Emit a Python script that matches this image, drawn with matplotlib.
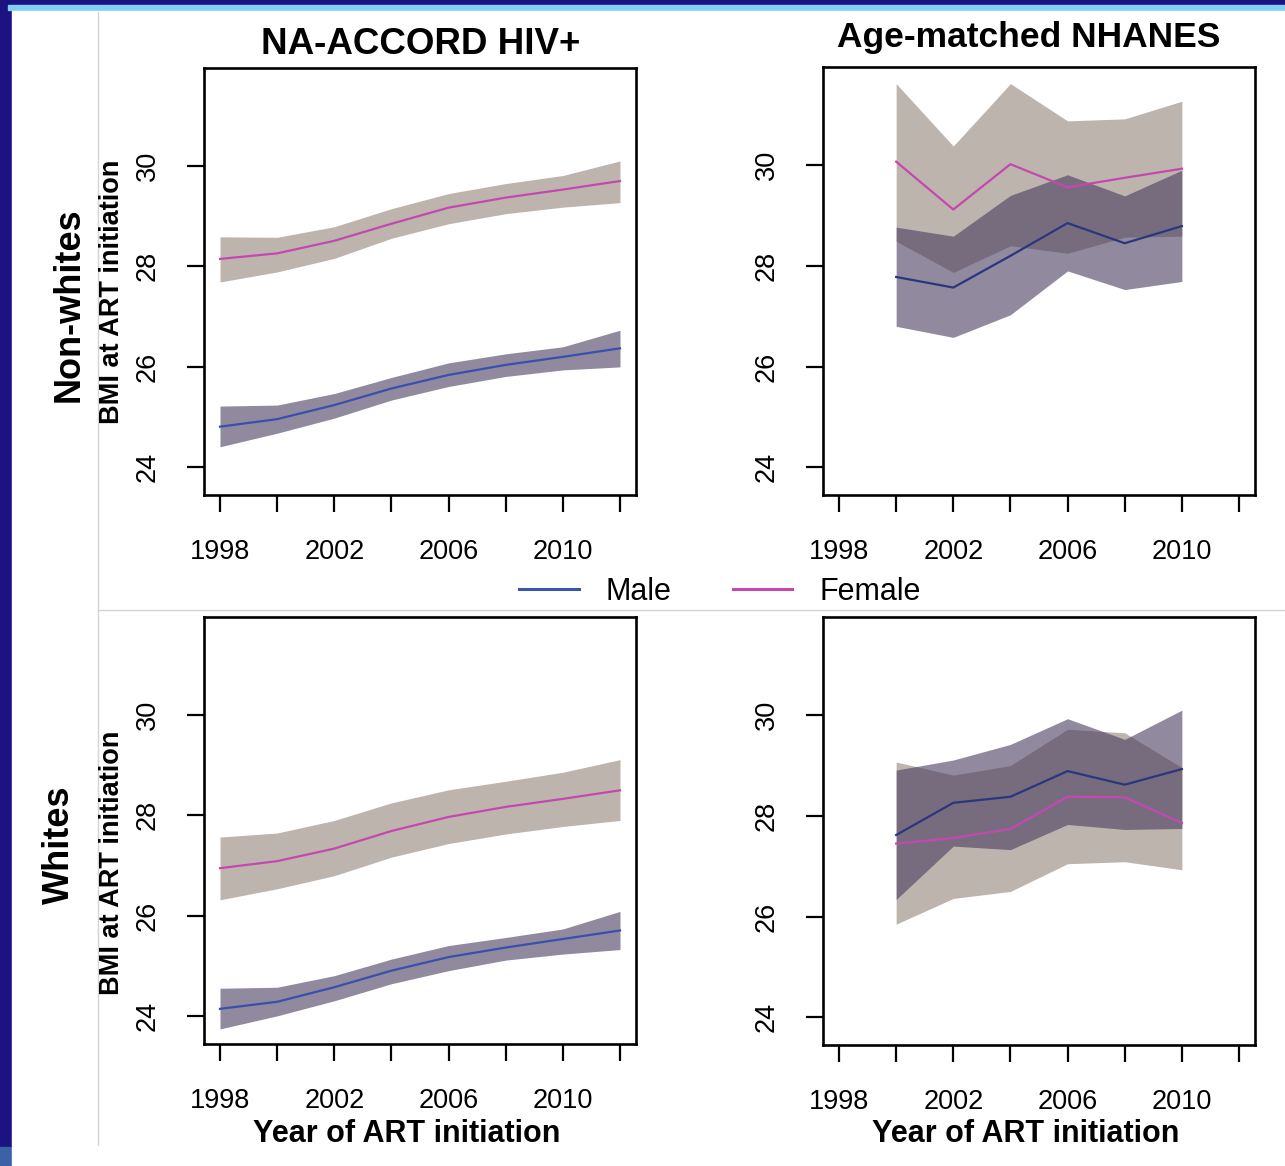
import numpy as np
import matplotlib
matplotlib.use('Agg')
import matplotlib.pyplot as plt
from matplotlib.lines import Line2D
from matplotlib.patches import Rectangle

plt.rcParams['font.family'] = ['Liberation Sans', 'DejaVu Sans']

# ---- data ----
years_fit = [1998, 2000, 2002, 2004, 2006, 2008, 2010, 2012]
years_nh = [2000, 2002, 2004, 2006, 2008, 2010]

# NA-ACCORD, non-whites
nw_hiv_f = [28.15, 28.26, 28.51, 28.85, 29.17, 29.37, 29.53, 29.70]
nw_hiv_f_lo = [27.69, 27.89, 28.16, 28.56, 28.85, 29.05, 29.18, 29.27]
nw_hiv_f_hi = [28.59, 28.58, 28.79, 29.15, 29.45, 29.65, 29.81, 30.10]
nw_hiv_m = [24.81, 24.96, 25.24, 25.57, 25.84, 26.04, 26.20, 26.37]
nw_hiv_m_lo = [24.41, 24.68, 24.98, 25.34, 25.61, 25.81, 25.94, 26.00]
nw_hiv_m_hi = [25.22, 25.24, 25.47, 25.79, 26.08, 26.26, 26.40, 26.73]

# NA-ACCORD, whites
w_hiv_f = [26.95, 27.09, 27.34, 27.69, 27.97, 28.17, 28.33, 28.50]
w_hiv_f_lo = [26.32, 26.54, 26.80, 27.17, 27.44, 27.63, 27.78, 27.90]
w_hiv_f_hi = [27.57, 27.65, 27.90, 28.25, 28.51, 28.68, 28.86, 29.11]
w_hiv_m = [24.15, 24.29, 24.58, 24.91, 25.18, 25.37, 25.54, 25.71]
w_hiv_m_lo = [23.75, 24.01, 24.31, 24.65, 24.91, 25.12, 25.24, 25.33]
w_hiv_m_hi = [24.56, 24.58, 24.81, 25.14, 25.41, 25.57, 25.74, 26.09]

# NHANES, non-whites
nw_nh_f = [30.07, 29.12, 30.02, 29.56, 29.75, 29.93]
nw_nh_f_lo = [28.49, 27.87, 28.40, 28.25, 28.57, 28.59]
nw_nh_f_hi = [31.62, 30.38, 31.62, 30.88, 30.92, 31.27]
nw_nh_m = [27.78, 27.57, 28.20, 28.85, 28.45, 28.79]
nw_nh_m_lo = [26.80, 26.58, 27.03, 27.90, 27.53, 27.69]
nw_nh_m_hi = [28.77, 28.59, 29.40, 29.81, 29.39, 29.90]

# NHANES, whites
w_nh_f = [27.45, 27.56, 27.74, 28.38, 28.37, 27.86]
w_nh_f_lo = [25.85, 26.36, 26.50, 27.05, 27.09, 26.93]
w_nh_f_hi = [29.07, 28.81, 29.00, 29.72, 29.65, 28.96]
w_nh_m = [27.62, 28.26, 28.38, 28.89, 28.62, 28.93]
w_nh_m_lo = [26.34, 27.40, 27.33, 27.83, 27.73, 27.75]
w_nh_m_hi = [28.91, 29.11, 29.42, 29.93, 29.52, 30.10]

xtick_pos = list(range(1998, 2013, 2))
xtick_lab = ['1998', '', '2002', '', '2006', '', '2010', '']
ytick_pos = [24, 26, 28, 30]

W, H = 1285, 1166
tan = '#beb4ae'
band_m = (72/255, 60/255, 94/255)
pink = '#c547b0'
blue_l = '#3a4fae'
blue_r = '#2a3780'

fig = plt.figure(figsize=(W/100, H/100), dpi=100)

def px(x, y):
    return x / W, 1 - y / H

def add_ax(x0, y0, x1, y1):
    ax = fig.add_axes([x0/W, 1 - y1/H, (x1-x0)/W, (y1-y0)/H])
    ax.set_xlim(1997.44, 2012.56)
    ax.set_ylim(23.45, 31.95)
    for s in ax.spines.values():
        s.set_linewidth(1.9)
    ax.set_xticks(xtick_pos)
    ax.set_xticklabels(xtick_lab)
    ax.set_yticks(ytick_pos)
    ax.set_yticklabels([str(v) for v in ytick_pos])
    ax.tick_params(length=12, width=1.6, labelsize=19.5, pad=20)
    ax.tick_params(axis='y', pad=19)
    for lab in ax.get_yticklabels():
        lab.set_rotation(90)
        lab.set_va('center')
    return ax

# page background: navy frame like the slide
fig.patches.append(Rectangle((0, 0), 1, 1, transform=fig.transFigure, color='#1c1282', zorder=-10))
fig.patches.append(Rectangle(px(8, 10), (W-8)/W, (10-5)/H, transform=fig.transFigure, color='#7fd0f2', zorder=-9))
fig.patches.append(Rectangle(px(12, 1147), (W-12)/W, (1147-11)/H, transform=fig.transFigure, color='white', zorder=-8))
fig.patches.append(Rectangle(px(0, H), 12/W, (H-1147)/H, transform=fig.transFigure, color='#3c62a6', zorder=-8))
fig.patches.append(Rectangle(px(12, H), (W-12)/W, (H-1147)/H, transform=fig.transFigure, color='white', zorder=-8))
fig.lines.append(Line2D([98/W, 98/W], [1 - 12/H, 1 - 1145/H], transform=fig.transFigure, color='#d4d4d4', lw=1))
fig.lines.append(Line2D([98/W, 1], [1 - 610/H, 1 - 610/H], transform=fig.transFigure, color='#d4d4d4', lw=1))

panels = [
    ((204, 68, 636, 495), years_fit, nw_hiv_f, nw_hiv_f_lo, nw_hiv_f_hi, nw_hiv_m, nw_hiv_m_lo, nw_hiv_m_hi, blue_l),
    ((823, 67, 1255, 495), years_nh, nw_nh_f, nw_nh_f_lo, nw_nh_f_hi, nw_nh_m, nw_nh_m_lo, nw_nh_m_hi, blue_r),
    ((204, 617, 636, 1044), years_fit, w_hiv_f, w_hiv_f_lo, w_hiv_f_hi, w_hiv_m, w_hiv_m_lo, w_hiv_m_hi, blue_l),
    ((823, 617, 1255, 1045), years_nh, w_nh_f, w_nh_f_lo, w_nh_f_hi, w_nh_m, w_nh_m_lo, w_nh_m_hi, blue_r),
]

for box, yrs, f, flo, fhi, m, mlo, mhi, mcol in panels:
    ax = add_ax(*box)
    ax.fill_between(yrs, flo, fhi, color=tan, lw=0)
    ax.fill_between(yrs, mlo, mhi, color=band_m, alpha=0.6, lw=0)
    ax.plot(yrs, f, color=pink, lw=1.6)
    ax.plot(yrs, m, color=mcol, lw=1.6)

# titles and labels
fig.text(*px(421, 45), 'NA-ACCORD HIV+', fontsize=26.5, fontweight='bold', ha='center', va='center')
fig.text(*px(1029, 37), 'Age-matched NHANES', fontsize=25.5, fontweight='bold', ha='center', va='center')
fig.text(*px(69, 305), 'Non-whites', fontsize=26, fontweight='bold', rotation=90, ha='center', va='center')
fig.text(*px(59, 845), 'Whites', fontsize=26, fontweight='bold', rotation=90, ha='center', va='center')
fig.text(*px(112, 292), 'BMI at ART initiation', fontsize=19.5, fontweight='bold', rotation=90, ha='center', va='center')
fig.text(*px(112, 863), 'BMI at ART initiation', fontsize=19.5, fontweight='bold', rotation=90, ha='center', va='center')
fig.text(*px(407, 1134), 'Year of ART initiation', fontsize=22, fontweight='bold', ha='center', va='center')
fig.text(*px(1026, 1134), 'Year of ART initiation', fontsize=22, fontweight='bold', ha='center', va='center')

handles = [Line2D([], [], color='#3a55b0', lw=2.2), Line2D([], [], color=pink, lw=2.2)]
fig.legend(handles, ['Male', 'Female'], ncol=2, frameon=False, fontsize=22,
           loc='center', bbox_to_anchor=px(720, 592), handlelength=1.95,
           handletextpad=0.88, columnspacing=2.0, borderpad=0)

fig.savefig('out.png', dpi=100)
